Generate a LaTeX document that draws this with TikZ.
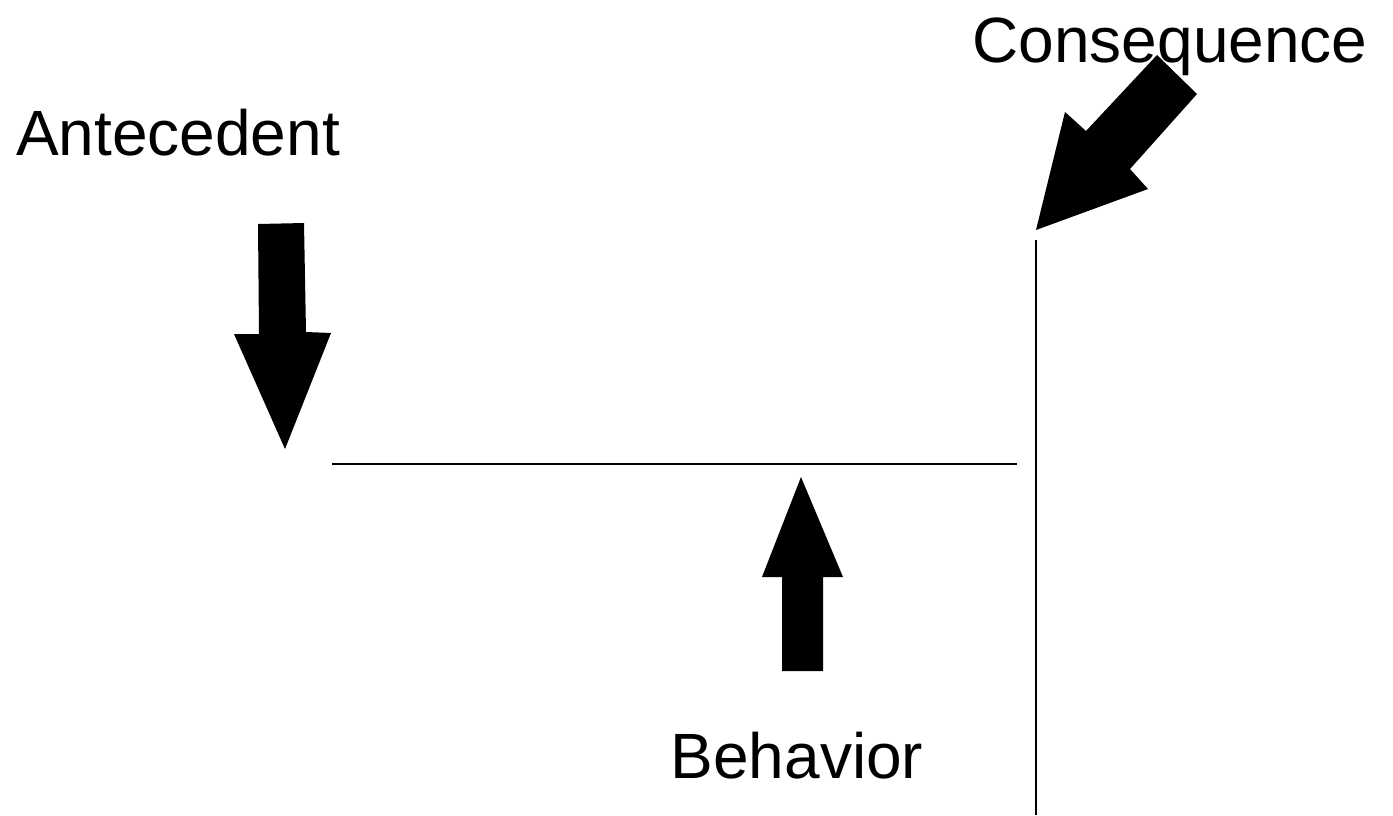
\documentclass[tikz,border=0pt]{standalone}
\usepackage{fontspec}
\setmainfont{Liberation Sans}
\begin{document}
\begin{tikzpicture}[x=1pt,y=-1pt,
  lbl/.style={font=\fontsize{64}{70}\selectfont, inner sep=0pt, anchor=base},
  bigarrow/.style={fill=black, draw=none},
  thinline/.style={draw=black, line width=2pt}]
\useasboundingbox (0,0) rectangle (1393,815);
% labels
\node[lbl] (ante) at (178,155) {Antecedent};
\node[lbl] (cons) at (1170,62) {Consequence};
\node[lbl] (beh) at (797,778) {Behavior};
% arrows
\fill[bigarrow] (258,224) -- (304,223) -- (306,332) -- (331,333) -- (285,449) -- (234,334) -- (259,334) -- cycle;
\fill[bigarrow] (801,477) -- (843,577) -- (823,577) -- (823,671) -- (782,671) -- (782,577) -- (762,577) -- cycle;
\fill[bigarrow] (1157,55) -- (1197,94) -- (1130,169) -- (1148,189) -- (1036,230) -- (1065,112) -- (1086,131) -- cycle;
% lines
\coordinate (h1) at (332,464);
\coordinate (h2) at (1017,464);
\coordinate (v1) at (1036,240);
\coordinate (v2) at (1036,815);
\draw[thinline] (h1) -- (h2);
\draw[thinline] (v1) -- (v2);
\end{tikzpicture}
\end{document}
